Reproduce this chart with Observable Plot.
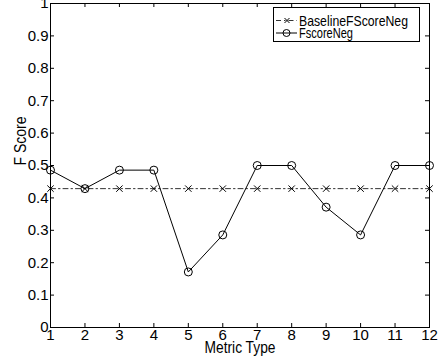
<!DOCTYPE html>
<html>
<head>
<meta charset="utf-8">
<script src="https://cdn.jsdelivr.net/npm/d3@7"></script>
<script src="https://cdn.jsdelivr.net/npm/@observablehq/plot@0.6"></script>
<style>
  html, body { margin: 0; padding: 0; background: #fff; }
  #chart { width: 440px; height: 364px; }
</style>
</head>
<body>
<div id="chart"></div>
<script>
// ---- data ----
const metricTypes = [1, 2, 3, 4, 5, 6, 7, 8, 9, 10, 11, 12];
const baselineFScoreNeg = [0.4286, 0.4286, 0.4286, 0.4286, 0.4286, 0.4286, 0.4286, 0.4286, 0.4286, 0.4286, 0.4286, 0.4286];
const fscoreNeg = [0.4857, 0.4286, 0.4857, 0.4857, 0.1714, 0.2857, 0.5, 0.5, 0.3714, 0.2857, 0.5, 0.5];
const xTicks = [1, 2, 3, 4, 5, 6, 7, 8, 9, 10, 11, 12];
const yTicks = [0, 0.1, 0.2, 0.3, 0.4, 0.5, 0.6, 0.7, 0.8, 0.9, 1];
const yTickLabels = ["0", "0.1", "0.2", "0.3", "0.4", "0.5", "0.6", "0.7", "0.8", "0.9", "1"];
const seriesNames = ["BaselineFScoreNeg", "FscoreNeg"];
const xLabel = "Metric Type";
const yLabel = "F Score";

const baseRows = metricTypes.map((m, i) => ({x: m, y: baselineFScoreNeg[i]}));
const fRows = metricTypes.map((m, i) => ({x: m, y: fscoreNeg[i]}));

const W = 440, H = 364;
const mL = 50, mR = 11, mT = 3, mB = 37;
const frameW = W - mL - mR, frameH = H - mT - mB;
const tick = 4;
const font = "'Liberation Sans', Arial, Helvetica, sans-serif";

const chart = Plot.plot({
  width: W, height: H,
  marginLeft: mL, marginRight: mR, marginTop: mT, marginBottom: mB,
  x: {domain: [1, 12]},
  y: {domain: [0, 1]},
  style: {fontFamily: font, fontSize: "15px", color: "#000", background: "#fff", overflow: "visible"},
  marks: [
    Plot.axisX(xTicks, {tickSize: 0, tickPadding: 2, label: null, fontSize: 15}),
    Plot.axisY(yTicks, {tickSize: 0, tickPadding: 2, label: null, fontSize: 15,
      tickFormat: d => yTickLabels[yTicks.indexOf(d)]}),
    // inward ticks on all four sides
    Plot.tickX(xTicks, {x: d => d, insetTop: frameH - tick, stroke: "#000"}),
    Plot.tickX(xTicks, {x: d => d, insetBottom: frameH - tick, stroke: "#000"}),
    Plot.tickY(yTicks, {y: d => d, insetRight: frameW - tick, stroke: "#000"}),
    Plot.tickY(yTicks, {y: d => d, insetLeft: frameW - tick, stroke: "#000"}),
    // series
    Plot.line(baseRows, {x: "x", y: "y", stroke: "#333", strokeWidth: 1, strokeDasharray: "5,3,1.5,3"}),
    Plot.dot(baseRows, {x: "x", y: "y", symbol: "times", r: 3, stroke: "#000", strokeWidth: 1}),
    Plot.line(fRows, {x: "x", y: "y", stroke: "#000", strokeWidth: 1}),
    Plot.dot(fRows, {x: "x", y: "y", symbol: "circle", r: 4, stroke: "#000", fill: "none", strokeWidth: 1}),
    Plot.frame({stroke: "#000", strokeWidth: 1}),
    // axis titles
    Plot.text([xLabel], {frameAnchor: "bottom", dy: 25, fontSize: 16, fill: "#000"}),
    Plot.text([yLabel], {frameAnchor: "left", dx: -30, rotate: -90, fontSize: 16, fill: "#000"})
  ]
});

document.getElementById("chart").appendChild(chart);

const svg = d3.select(chart);
// condense axis titles like the reference
svg.selectAll("text").each(function () {
  const t = d3.select(this);
  const s = this.textContent;
  if (s === xLabel) t.attr("textLength", 71).attr("lengthAdjust", "spacingAndGlyphs");
  if (s === yLabel) t.attr("textLength", 49).attr("lengthAdjust", "spacingAndGlyphs");
});

// ---- legend ----
const lg = svg.append("g").attr("class", "legend").attr("text-anchor", "start");
const box = {x: 273.5, y: 7.5, w: 146, h: 34};
lg.append("rect").attr("x", box.x).attr("y", box.y).attr("width", box.w).attr("height", box.h)
  .attr("fill", "#fff").attr("stroke", "#000").attr("stroke-width", 1);
const rows = [
  {name: seriesNames[0], cy: 20.5, dash: "5,3,1.5,3", stroke: "#333", marker: "times", len: 109},
  {name: seriesNames[1], cy: 33, dash: null, stroke: "#000", marker: "circle", len: 54}
];
rows.forEach(r => {
  lg.append("line").attr("x1", 276).attr("x2", 297).attr("y1", r.cy).attr("y2", r.cy)
    .attr("stroke", r.stroke).attr("stroke-dasharray", r.dash);
  if (r.marker === "times") {
    lg.append("path").attr("d", `M${287-2.5},${r.cy-2.5}L${287+2.5},${r.cy+2.5}M${287-2.5},${r.cy+2.5}L${287+2.5},${r.cy-2.5}`)
      .attr("stroke", "#000").attr("fill", "none");
  } else {
    lg.append("circle").attr("cx", 286.5).attr("cy", r.cy).attr("r", 3.5)
      .attr("stroke", "#000").attr("fill", "none");
  }
  lg.append("text").attr("x", 299).attr("y", r.cy).attr("dy", "0.36em")
    .attr("text-anchor", "start")
    .attr("font-family", font).attr("font-size", 15).attr("fill", "#000")
    .attr("textLength", r.len).attr("lengthAdjust", "spacingAndGlyphs")
    .text(r.name);
});
</script>
</body>
</html>
